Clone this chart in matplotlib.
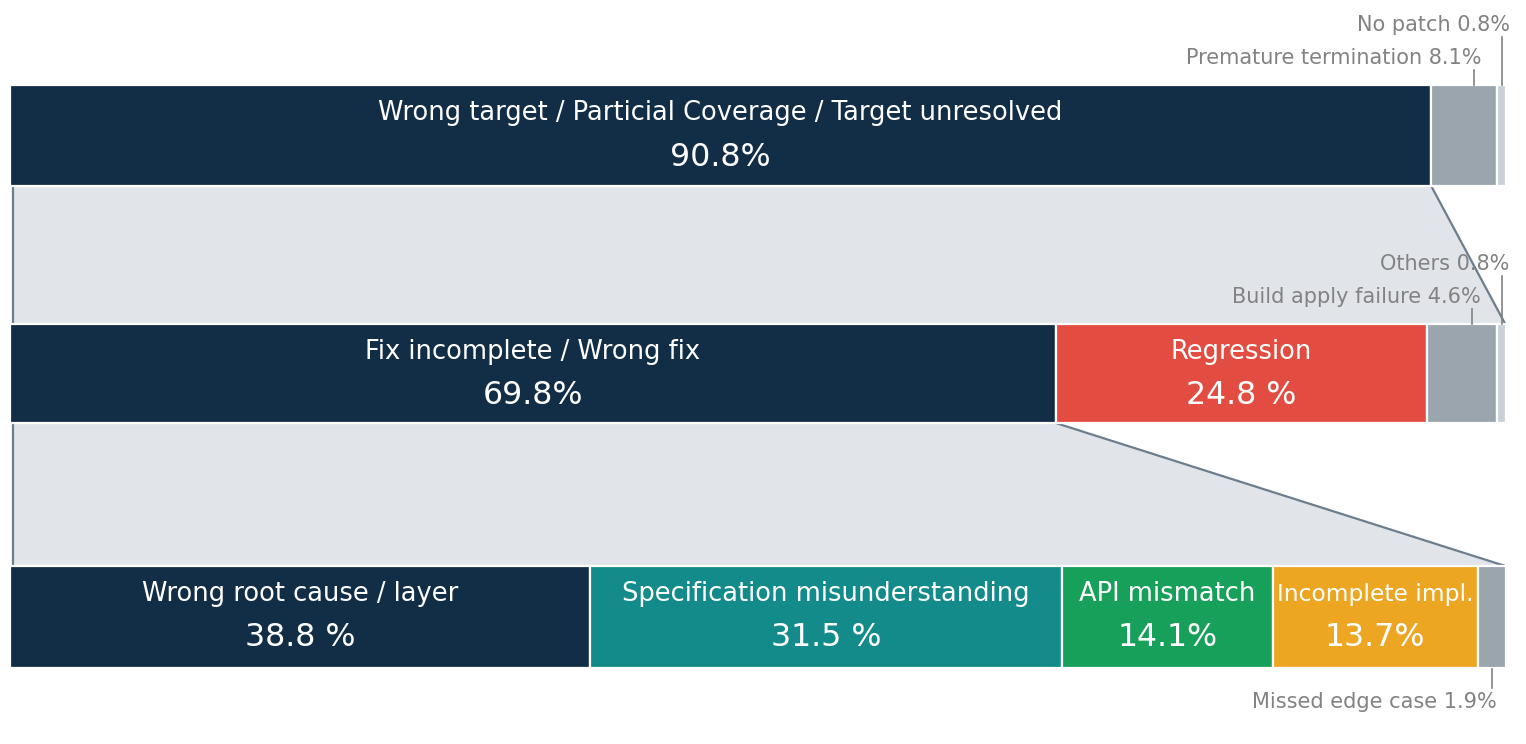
import numpy as np
import matplotlib.pyplot as plt

# three levels of the failure breakdown
top_names = ['Wrong target / Particial Coverage / Target unresolved', 'Premature termination', 'No patch']
top_labels = ['90.8%', '8.1%', '0.8%']
top_share = [95.0, 4.4, 0.6]          # drawn widths of the top bar as seen in the picture

mid_names = ['Fix incomplete / Wrong fix', 'Regression', 'Build apply failure', 'Others']
mid_labels = ['69.8%', '24.8 %', '4.6%', '0.8%']
mid_share = [69.9, 24.8, 4.7, 0.6]

bot_names = ['Wrong root cause / layer', 'Specification misunderstanding', 'API mismatch',
             'Incomplete impl.', 'Missed edge case']
bot_labels = ['38.8 %', '31.5 %', '14.1%', '13.7%', '1.9%']
bot_share = [38.8, 31.5, 14.1, 13.7, 1.9]

navy = '#122e47'
gray = '#9ba5ad'
light = '#c9d0d7'
top_colors = [navy, gray, light]
mid_colors = [navy, '#e34c41', gray, light]
bot_colors = [navy, '#138b8b', '#17a05a', '#eca621', gray]

band_fill = '#e1e5e9'
band_line = '#6c7e8e'
note_color = '#828282'

W, H = 1526, 744
fig = plt.figure(figsize=(W / 100, H / 100), dpi=100)
# x axis runs 0..100 % across the bar span (pixels 10..1506), y in pixel rows
ax = fig.add_axes([10 / W, 0, 1496 / W, 1])
ax.set_xlim(0, 100)
ax.set_ylim(H, 0)
ax.axis('off')

rows = [(85, 101), (324, 99), (566, 102)]   # (top, height) of each bar
levels = [(top_share, top_colors, top_names, top_labels),
          (mid_share, mid_colors, mid_names, mid_labels),
          (bot_share, bot_colors, bot_names, bot_labels)]

# connector bands: from the expanded (first) segment down to the full next bar
for i in range(2):
    y0 = rows[i][0] + rows[i][1]
    y1 = rows[i + 1][0]
    xr = levels[i][0][0]
    xl = 0.2
    ax.fill([xl, xr, 100, xl], [y0, y0, y1, y1], color=band_fill, lw=0, zorder=1)
    ax.plot([xl, xl], [y0, y1], color=band_line, lw=1.6, zorder=2)
    ax.plot([xr, 99.95], [y0, y1], color=band_line, lw=1.6, zorder=2)

for r, (share, colors, names, labels) in enumerate(levels):
    top, h = rows[r]
    lefts = np.concatenate([[0], np.cumsum(share)[:-1]])
    ax.barh(top + h / 2, share, left=lefts, height=h, color=colors,
            edgecolor='white', linewidth=1.6, zorder=3)
    n_in = [1, 2, 4][r]
    for k in range(n_in):
        cx = lefts[k] + share[k] / 2
        fs = 16.8 if names[k] == 'Incomplete impl.' else 18.5
        ax.text(cx, top + 28, names[k], ha='center', va='center', color='white',
                fontsize=fs, zorder=4)
        ax.text(cx, top + 72, labels[k], ha='center', va='center', color='white',
                fontsize=22.8, zorder=4)

# small outside notes with leader ticks
px = 100 / 1496
def note(r, k, level_up, frac):
    share = levels[r][0]
    lefts = np.concatenate([[0], np.cumsum(share)[:-1]])
    lx = lefts[k] + share[k] * frac
    text = levels[r][2][k] + ' ' + levels[r][3][k]
    top, h = rows[r]
    if level_up is None:
        # below the bar
        ax.plot([lx, lx], [top + h + 1, top + h + 20], color=note_color, lw=1.2, zorder=4)
        ax.text(lx + 5 * px, top + h + 34, text, ha='right', va='center',
                color=note_color, fontsize=15)
    else:
        ty = top - 27 - 33 * level_up
        ax.plot([lx, lx], [ty + 12, top], color=note_color, lw=1.2, zorder=4)
        ax.text(lx + 8 * px, ty, text, ha='right', va='center',
                color=note_color, fontsize=15)

note(0, 1, 0, 0.65)
note(0, 2, 1, 0.5)
note(1, 2, 0, 0.65)
note(1, 3, 1, 0.5)
note(2, 4, None, 0.5)

fig.savefig('out.png', dpi=100)
